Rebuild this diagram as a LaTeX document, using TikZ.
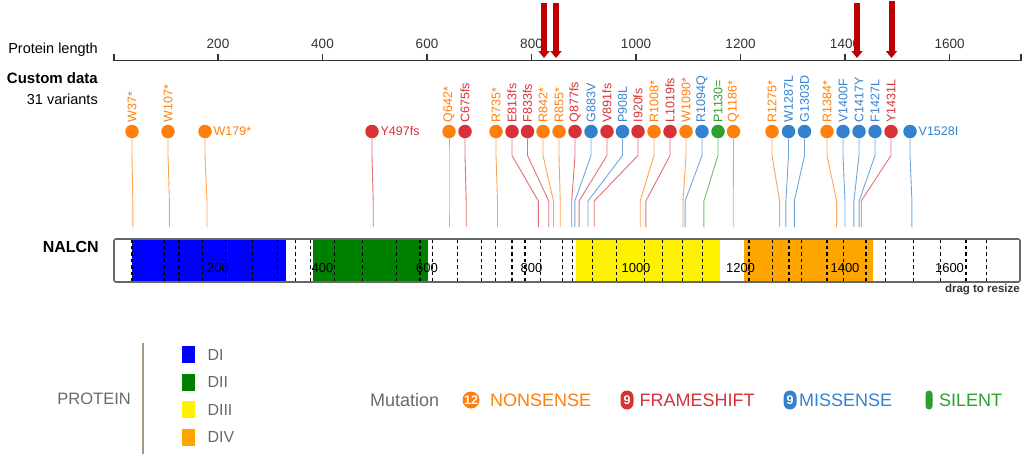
\documentclass[tikz,border=0pt]{standalone}
\usepackage{fontspec}
\setmainfont{Liberation Sans}
\usetikzlibrary{arrows.meta}

\definecolor{cNon}{RGB}{255,127,14}
\definecolor{cFra}{RGB}{214,50,56}
\definecolor{cMis}{RGB}{52,130,206}
\definecolor{cSil}{RGB}{44,160,44}
\definecolor{hitRed}{RGB}{192,0,0}
\definecolor{grayTxt}{RGB}{105,105,105}
\definecolor{barEdge}{RGB}{102,102,102}
\definecolor{tanLine}{RGB}{168,154,128}
\definecolor{domOrange}{RGB}{255,165,0}

\begin{document}
\begin{tikzpicture}[
  x=1pt, y=-1pt,
  every node/.style={font=\fontsize{12.5}{14}\selectfont},
  dot/.style={circle, fill=#1, minimum size=13.5pt, inner sep=0pt},
  vlab/.style={rotate=90, anchor=west, inner sep=2pt, text=#1},
  hlab/.style={anchor=west, inner sep=1.5pt, text=#1},
  stem/.style={draw=#1!70!white, line width=0.9pt},
  tmline/.style={dash pattern=on 3.5pt off 3pt, line width=1.2pt},
  swatch/.style={fill=#1, minimum width=13pt, minimum height=17pt, inner sep=0pt},
  leg/.style={anchor=west, text=grayTxt, font=\fontsize{16}{18}\selectfont},
  mutlab/.style={anchor=west, inner sep=0pt, text=#1, font=\fontsize{18}{20}\selectfont},
  badge/.style={fill=#1, text=white, rounded corners=6.5pt, minimum width=13pt,
    minimum height=19pt, inner sep=0pt, font=\bfseries\fontsize{12.5}{13}\selectfont},
  hit/.style={-{Triangle[width=11pt,length=7pt]}, line width=6pt, draw=hitRed}
]
  \useasboundingbox (0,0) rectangle (1024,456);

  % axis
  \node[anchor=east, inner sep=0pt, font=\fontsize{14.5}{16}\selectfont] (plen) at (98,50) {Protein length};
  \node[anchor=east, inner sep=0pt, font=\bfseries\fontsize{15}{17}\selectfont] (cdata) at (98,78) {Custom data};
  \node[anchor=east, inner sep=0pt, font=\fontsize{14.5}{16}\selectfont] (nvar) at (98,99) {31 variants};
  \draw[line width=1.3pt, black!80] (114,54) -- (114,60.5) -- (1021,60.5) -- (1021,54);
  \draw[line width=1.3pt, black!80] (218,54) -- (218,60.5) node[pos=0, above=1pt, font=\fontsize{13.5}{14}\selectfont] (a200) {200};
  \draw[line width=1.3pt, black!80] (322.5,54) -- (322.5,60.5) node[pos=0, above=1pt, font=\fontsize{13.5}{14}\selectfont] (a400) {400};
  \draw[line width=1.3pt, black!80] (427,54) -- (427,60.5) node[pos=0, above=1pt, font=\fontsize{13.5}{14}\selectfont] (a600) {600};
  \draw[line width=1.3pt, black!80] (531.5,54) -- (531.5,60.5) node[pos=0, above=1pt, font=\fontsize{13.5}{14}\selectfont] (a800) {800};
  \draw[line width=1.3pt, black!80] (636,54) -- (636,60.5) node[pos=0, above=1pt, font=\fontsize{13.5}{14}\selectfont] (a1000) {1000};
  \draw[line width=1.3pt, black!80] (740.5,54) -- (740.5,60.5) node[pos=0, above=1pt, font=\fontsize{13.5}{14}\selectfont] (a1200) {1200};
  \draw[line width=1.3pt, black!80] (845,54) -- (845,60.5) node[pos=0, above=1pt, font=\fontsize{13.5}{14}\selectfont] (a1400) {1400};
  \draw[line width=1.3pt, black!80] (949.5,54) -- (949.5,60.5) node[pos=0, above=1pt, font=\fontsize{13.5}{14}\selectfont] (a1600) {1600};

  % red arrows
  \coordinate (h1t) at (544,3);   \coordinate (h1) at (544,58);
  \coordinate (h2t) at (556,3);   \coordinate (h2) at (556,58);
  \coordinate (h3t) at (857,3);   \coordinate (h3) at (857,58);
  \coordinate (h4t) at (891.5,1); \coordinate (h4) at (891.5,58);
  \draw[hit] (h1t) -- (h1);
  \draw[hit] (h2t) -- (h2);
  \draw[hit] (h3t) -- (h3);
  \draw[hit] (h4t) -- (h4);

  % variants
  \node[dot=cNon] (w37) at (132,131.5) {};
  \node[dot=cNon] (w107) at (168,131.5) {};
  \node[dot=cNon] (w179) at (205,131.5) {};
  \node[dot=cFra] (y497) at (372,131.5) {};
  \node[dot=cNon] (q642) at (449,131.5) {};
  \node[dot=cFra] (c675) at (465,131.5) {};
  \node[dot=cNon] (r735) at (496,131.5) {};
  \node[dot=cFra] (e813) at (512,131.5) {};
  \node[dot=cFra] (f833) at (527.5,131.5) {};
  \node[dot=cNon] (r842) at (543,131.5) {};
  \node[dot=cNon] (r855) at (559,131.5) {};
  \node[dot=cFra] (q877) at (575,131.5) {};
  \node[dot=cMis] (g883) at (591,131.5) {};
  \node[dot=cFra] (v891) at (607,131.5) {};
  \node[dot=cMis] (p908) at (622.5,131.5) {};
  \node[dot=cFra] (i920) at (638,131.5) {};
  \node[dot=cNon] (r1008) at (654,131.5) {};
  \node[dot=cFra] (l1019) at (670,131.5) {};
  \node[dot=cNon] (w1090) at (686,131.5) {};
  \node[dot=cMis] (r1094) at (702,131.5) {};
  \node[dot=cSil] (p1130) at (718,131.5) {};
  \node[dot=cNon] (q1186) at (733.5,131.5) {};
  \node[dot=cNon] (r1275) at (772,131.5) {};
  \node[dot=cMis] (w1287) at (788.5,131.5) {};
  \node[dot=cMis] (g1303) at (804.5,131.5) {};
  \node[dot=cNon] (r1384) at (827,131.5) {};
  \node[dot=cMis] (v1400) at (843,131.5) {};
  \node[dot=cMis] (c1417) at (859,131.5) {};
  \node[dot=cMis] (f1427) at (875,131.5) {};
  \node[dot=cFra] (y1431) at (891,131.5) {};
  \node[dot=cMis] (v1528) at (910,131.5) {};

  \node[vlab=cNon] (w37l) at (w37.north) {W37*};
  \node[vlab=cNon] (w107l) at (w107.north) {W107*};
  \node[hlab=cNon] (w179l) at (w179.east) {W179*};
  \node[hlab=cFra] (y497l) at (y497.east) {Y497fs};
  \node[vlab=cNon] (q642l) at (q642.north) {Q642*};
  \node[vlab=cFra] (c675l) at (c675.north) {C675fs};
  \node[vlab=cNon] (r735l) at (r735.north) {R735*};
  \node[vlab=cFra] (e813l) at (e813.north) {E813fs};
  \node[vlab=cFra] (f833l) at (f833.north) {F833fs};
  \node[vlab=cNon] (r842l) at (r842.north) {R842*};
  \node[vlab=cNon] (r855l) at (r855.north) {R855*};
  \node[vlab=cFra] (q877l) at (q877.north) {Q877fs};
  \node[vlab=cMis] (g883l) at (g883.north) {G883V};
  \node[vlab=cFra] (v891l) at (v891.north) {V891fs};
  \node[vlab=cMis] (p908l) at (p908.north) {P908L};
  \node[vlab=cFra] (i920l) at (i920.north) {I920fs};
  \node[vlab=cNon] (r1008l) at (r1008.north) {R1008*};
  \node[vlab=cFra] (l1019l) at (l1019.north) {L1019fs};
  \node[vlab=cNon] (w1090l) at (w1090.north) {W1090*};
  \node[vlab=cMis] (r1094l) at (r1094.north) {R1094Q};
  \node[vlab=cSil] (p1130l) at (p1130.north) {P1130=};
  \node[vlab=cNon] (q1186l) at (q1186.north) {Q1186*};
  \node[vlab=cNon] (r1275l) at (r1275.north) {R1275*};
  \node[vlab=cMis] (w1287l) at (w1287.north) {W1287L};
  \node[vlab=cMis] (g1303l) at (g1303.north) {G1303D};
  \node[vlab=cNon] (r1384l) at (r1384.north) {R1384*};
  \node[vlab=cMis] (v1400l) at (v1400.north) {V1400F};
  \node[vlab=cMis] (c1417l) at (c1417.north) {C1417Y};
  \node[vlab=cMis] (f1427l) at (f1427.north) {F1427L};
  \node[vlab=cFra] (y1431l) at (y1431.north) {Y1431L};
  \node[hlab=cMis] (v1528l) at (v1528.east) {V1528I};

  % positions on the protein
  \coordinate (w37b) at (132.8,227);
  \coordinate (w107b) at (169.4,227);
  \coordinate (w179b) at (207,227);
  \coordinate (y497b) at (373.2,227);
  \coordinate (q642b) at (449,227);
  \coordinate (c675b) at (466.2,227);
  \coordinate (r735b) at (497.5,227);
  \coordinate (e813b) at (538.3,227);
  \coordinate (f833b) at (548.7,227);
  \coordinate (r842b) at (553.5,227);
  \coordinate (r855b) at (560.2,227);
  \coordinate (q877b) at (571.7,227);
  \coordinate (g883b) at (574.9,227);
  \coordinate (v891b) at (579.1,227);
  \coordinate (p908b) at (588,227);
  \coordinate (i920b) at (594.2,227);
  \coordinate (r1008b) at (640.2,227);
  \coordinate (l1019b) at (645.9,227);
  \coordinate (w1090b) at (683,227);
  \coordinate (r1094b) at (685.1,227);
  \coordinate (p1130b) at (703.9,227);
  \coordinate (q1186b) at (733.2,227);
  \coordinate (r1275b) at (779.6,227);
  \coordinate (w1287b) at (785.9,227);
  \coordinate (g1303b) at (794.3,227);
  \coordinate (r1384b) at (836.6,227);
  \coordinate (v1400b) at (845,227);
  \coordinate (c1417b) at (853.9,227);
  \coordinate (f1427b) at (859.1,227);
  \coordinate (y1431b) at (861.2,227);
  \coordinate (v1528b) at (911.9,227);

  \draw[stem=cNon] (w37.south) -- ++(0,17) -- ([yshift=26pt]w37b) -- (w37b);
  \draw[stem=cNon] (w107.south) -- ++(0,17) -- ([yshift=26pt]w107b) -- (w107b);
  \draw[stem=cNon] (w179.south) -- ++(0,17) -- ([yshift=26pt]w179b) -- (w179b);
  \draw[stem=cFra] (y497.south) -- ++(0,17) -- ([yshift=26pt]y497b) -- (y497b);
  \draw[stem=cNon] (q642.south) -- ++(0,17) -- ([yshift=26pt]q642b) -- (q642b);
  \draw[stem=cFra] (c675.south) -- ++(0,17) -- ([yshift=26pt]c675b) -- (c675b);
  \draw[stem=cNon] (r735.south) -- ++(0,17) -- ([yshift=26pt]r735b) -- (r735b);
  \draw[stem=cFra] (e813.south) -- ++(0,17) -- ([yshift=26pt]e813b) -- (e813b);
  \draw[stem=cFra] (f833.south) -- ++(0,17) -- ([yshift=26pt]f833b) -- (f833b);
  \draw[stem=cNon] (r842.south) -- ++(0,17) -- ([yshift=26pt]r842b) -- (r842b);
  \draw[stem=cNon] (r855.south) -- ++(0,17) -- ([yshift=26pt]r855b) -- (r855b);
  \draw[stem=cFra] (q877.south) -- ++(0,17) -- ([yshift=26pt]q877b) -- (q877b);
  \draw[stem=cMis] (g883.south) -- ++(0,17) -- ([yshift=26pt]g883b) -- (g883b);
  \draw[stem=cFra] (v891.south) -- ++(0,17) -- ([yshift=26pt]v891b) -- (v891b);
  \draw[stem=cMis] (p908.south) -- ++(0,17) -- ([yshift=26pt]p908b) -- (p908b);
  \draw[stem=cFra] (i920.south) -- ++(0,17) -- ([yshift=26pt]i920b) -- (i920b);
  \draw[stem=cNon] (r1008.south) -- ++(0,17) -- ([yshift=26pt]r1008b) -- (r1008b);
  \draw[stem=cFra] (l1019.south) -- ++(0,17) -- ([yshift=26pt]l1019b) -- (l1019b);
  \draw[stem=cNon] (w1090.south) -- ++(0,17) -- ([yshift=26pt]w1090b) -- (w1090b);
  \draw[stem=cMis] (r1094.south) -- ++(0,17) -- ([yshift=26pt]r1094b) -- (r1094b);
  \draw[stem=cSil] (p1130.south) -- ++(0,17) -- ([yshift=26pt]p1130b) -- (p1130b);
  \draw[stem=cNon] (q1186.south) -- ++(0,17) -- ([yshift=26pt]q1186b) -- (q1186b);
  \draw[stem=cNon] (r1275.south) -- ++(0,17) -- ([yshift=26pt]r1275b) -- (r1275b);
  \draw[stem=cMis] (w1287.south) -- ++(0,17) -- ([yshift=26pt]w1287b) -- (w1287b);
  \draw[stem=cMis] (g1303.south) -- ++(0,17) -- ([yshift=26pt]g1303b) -- (g1303b);
  \draw[stem=cNon] (r1384.south) -- ++(0,17) -- ([yshift=26pt]r1384b) -- (r1384b);
  \draw[stem=cMis] (v1400.south) -- ++(0,17) -- ([yshift=26pt]v1400b) -- (v1400b);
  \draw[stem=cMis] (c1417.south) -- ++(0,17) -- ([yshift=26pt]c1417b) -- (c1417b);
  \draw[stem=cMis] (f1427.south) -- ++(0,17) -- ([yshift=26pt]f1427b) -- (f1427b);
  \draw[stem=cFra] (y1431.south) -- ++(0,17) -- ([yshift=26pt]y1431b) -- (y1431b);
  \draw[stem=cMis] (v1528.south) -- ++(0,17) -- ([yshift=26pt]v1528b) -- (v1528b);

  % protein bar
  \node[anchor=east, inner sep=0pt, font=\bfseries\fontsize{16}{18}\selectfont] (prot) at (99,247) {NALCN};
  \fill[blue] (132,239) rectangle (286,282);
  \fill[black!50!green] (313,239) rectangle (428,282);
  \fill[yellow] (576,239) rectangle (720,282);
  \fill[domOrange] (744,239) rectangle (873,282);
  \draw[tmline] (132,239) -- ++(0,43) (164,239) -- ++(0,43) (179,239) -- ++(0,43) (202.7,239) -- ++(0,43)
    (225.3,239) -- ++(0,43) (252.3,239) -- ++(0,43) (277.3,239) -- ++(0,43) (295.7,239) -- ++(0,43)
    (310.7,239) -- ++(0,43) (334.3,239) -- ++(0,43) (362.7,239) -- ++(0,43) (396.7,239) -- ++(0,43)
    (420,239) -- ++(0,43) (432.7,239) -- ++(0,43) (457.7,239) -- ++(0,43) (481.7,239) -- ++(0,43)
    (495.7,239) -- ++(0,43) (512,239) -- ++(0,43) (525,239) -- ++(0,43) (540.7,239) -- ++(0,43)
    (562.7,239) -- ++(0,43) (572.3,239) -- ++(0,43) (592.3,239) -- ++(0,43) (616.7,239) -- ++(0,43)
    (644.3,239) -- ++(0,43) (662.7,239) -- ++(0,43) (682.7,239) -- ++(0,43) (702.3,239) -- ++(0,43)
    (749,239) -- ++(0,43) (772.3,239) -- ++(0,43) (789,239) -- ++(0,43) (801.7,239) -- ++(0,43)
    (827,239) -- ++(0,43) (843.3,239) -- ++(0,43) (866,239) -- ++(0,43) (885.7,239) -- ++(0,43)
    (913.3,239) -- ++(0,43) (940.7,239) -- ++(0,43) (966,239) -- ++(0,43) (986.7,239) -- ++(0,43);
  \draw[barEdge, line width=1.6pt, rounded corners=2pt] (114,239) rectangle (1020,282);
  \node[font=\fontsize{13}{14}\selectfont] (p200) at (218,268) {200};
  \node[font=\fontsize{13}{14}\selectfont] (p400) at (322.5,268) {400};
  \node[font=\fontsize{13}{14}\selectfont] (p600) at (427,268) {600};
  \node[font=\fontsize{13}{14}\selectfont] (p800) at (531.5,268) {800};
  \node[font=\fontsize{13}{14}\selectfont] (p1000) at (636,268) {1000};
  \node[font=\fontsize{13}{14}\selectfont] (p1200) at (740.5,268) {1200};
  \node[font=\fontsize{13}{14}\selectfont] (p1400) at (845,268) {1400};
  \node[font=\fontsize{13}{14}\selectfont] (p1600) at (949.5,268) {1600};
  \node[anchor=east, inner sep=0pt, text=black!80, font=\bfseries\fontsize{11.5}{13}\selectfont] (drag) at (1020,290) {drag to resize};

  % legend
  \node[anchor=east, inner sep=0pt, text=grayTxt, font=\fontsize{16.5}{18}\selectfont] (lprot) at (131,399) {PROTEIN};
  \draw[tanLine, line width=1.5pt] (143,343) -- (143,454);
  \node[swatch=blue] (sdi) at (188.5,354.5) {};
  \node[swatch=black!50!green] (sdii) at (188.5,382) {};
  \node[swatch=yellow] (sdiii) at (188.5,409.5) {};
  \node[swatch=domOrange] (sdiv) at (188.5,437) {};
  \node[leg] (ldi) at (204,354.5) {DI};
  \node[leg] (ldii) at (204,382) {DII};
  \node[leg] (ldiii) at (204,409.5) {DIII};
  \node[leg] (ldiv) at (204,437) {DIV};

  \node[mutlab=grayTxt] (lmut) at (370,400) {Mutation};
  \node[badge=cNon, circle, minimum size=17pt] (bnon) at (471,400) {12};
  \node[mutlab=cNon] (lnon) at (490,400) {NONSENSE};
  \node[badge=cFra] (bfra) at (627,400) {9};
  \node[mutlab=cFra] (lfra) at (639.5,400) {FRAMESHIFT};
  \node[badge=cMis] (bmis) at (790,400) {9};
  \node[mutlab=cMis] (lmis) at (799,400) {MISSENSE};
  \node[badge=cSil, minimum width=7pt, rounded corners=3.5pt] (bsil) at (929,400) {};
  \node[mutlab=cSil] (lsil) at (939,400) {SILENT};
\end{tikzpicture}
\end{document}
